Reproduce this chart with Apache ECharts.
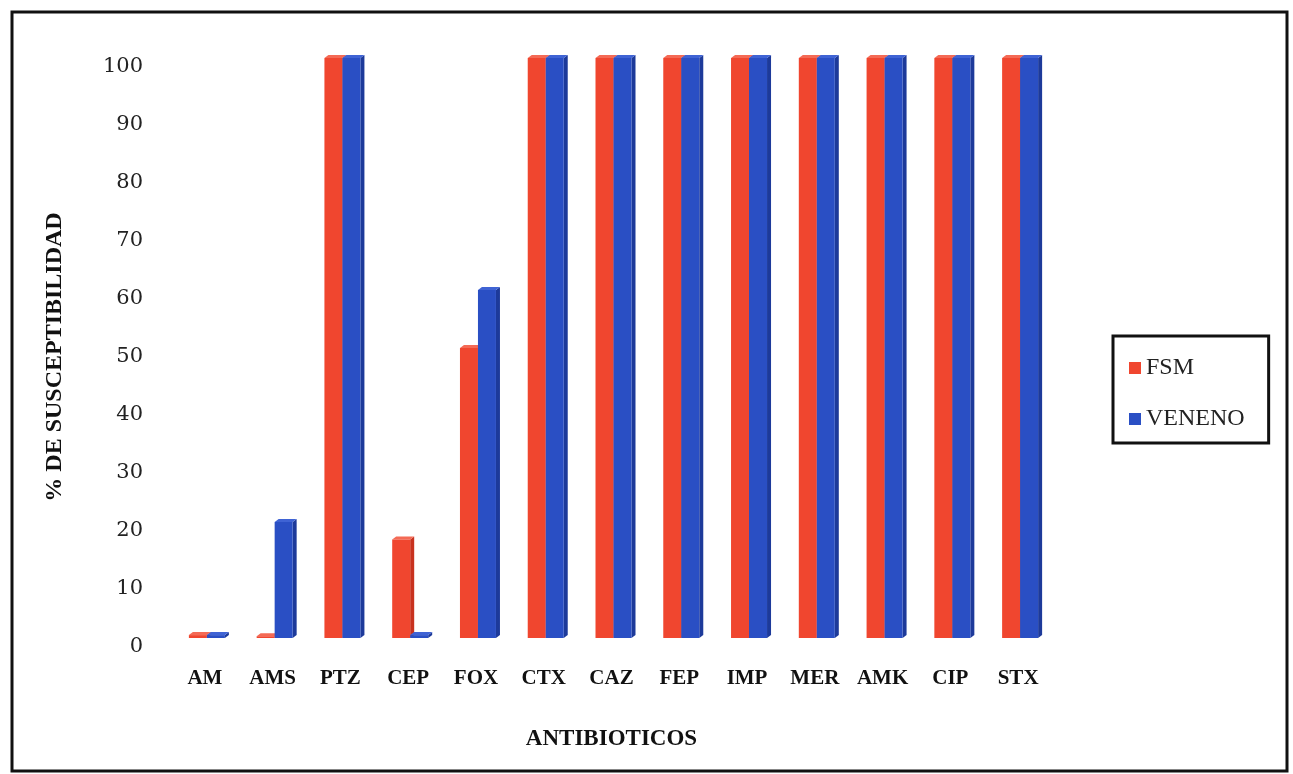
<!DOCTYPE html>
<html>
<head>
<meta charset="utf-8">
<script src="https://cdn.jsdelivr.net/npm/echarts@6/dist/echarts.min.js"></script>
<style>
html, body { margin: 0; padding: 0; background: #fff; }
#chart { width: 1293px; height: 774px; }
</style>
</head>
<body>
<div id="chart"></div>
<script>
var antibioticos = ['AM', 'AMS', 'PTZ', 'CEP', 'FOX', 'CTX', 'CAZ', 'FEP', 'IMP', 'MER', 'AMK', 'CIP', 'STX'];
var fsm = [0.5, 0.3, 100, 17, 50, 100, 100, 100, 100, 100, 100, 100, 100];
var veneno = [0.5, 20, 100, 0.5, 60, 100, 100, 100, 100, 100, 100, 100, 100];

var myChart = echarts.init(document.getElementById('chart'));
var serif = 'Liberation Serif';

// barra con efecto 3D: cara frontal, tapa y lado derecho (algo elevada, como en Excel)
function bar3d(offset, front, top, side) {
	return function(params, api) {
		var base = api.coord([api.value(0), 0]);
		var tip = api.coord([api.value(0), api.value(1)]);
		var w = 18, dx = 4, dy = 3, lift = 9;
		var x0 = base[0] + offset, x1 = x0 + w;
		var y0 = base[1] - lift, y1 = tip[1] - lift;
		return {
			type: 'group',
			children: [{
				type: 'polygon',
				shape: { points: [[x1, y0], [x1 + dx, y0 - dy], [x1 + dx, y1 - dy], [x1, y1]] },
				style: { fill: side }
			}, {
				type: 'polygon',
				shape: { points: [[x0, y1], [x0 + dx, y1 - dy], [x1 + dx, y1 - dy], [x1, y1]] },
				style: { fill: top }
			}, {
				type: 'rect',
				shape: { x: x0, y: y1, width: w, height: y0 - y1 },
				style: { fill: front }
			}]
		};
	};
}

var option = {
	backgroundColor: '#fff',
	animation: false,
	grid: { left: 171, right: 241, top: 67, bottom: 127 },
	graphic: [{
		type: 'rect',
		shape: { x: 12, y: 12, width: 1275, height: 759 },
		style: { fill: 'none', stroke: '#111', lineWidth: 3 },
		z: 100
	}],
	legend: {
		orient: 'vertical',
		left: 1113,
		top: 336,
		padding: [20, 24, 12, 16],
		itemGap: 27,
		itemWidth: 12,
		itemHeight: 12,
		borderColor: '#111',
		borderWidth: 3,
		icon: 'rect',
		data: ['FSM', 'VENENO'],
		textStyle: { fontFamily: serif, fontSize: 24, color: '#222' }
	},
	xAxis: {
		type: 'category',
		data: antibioticos,
		name: 'ANTIBIOTICOS',
		nameLocation: 'middle',
		nameGap: 81,
		nameTextStyle: { fontFamily: serif, fontSize: 23, fontWeight: 'bold', color: '#111' },
		axisLine: { show: false },
		axisTick: { show: false },
		axisLabel: { fontFamily: serif, fontSize: 21, fontWeight: 'bold', color: '#111', margin: 21 }
	},
	yAxis: {
		type: 'value',
		min: 0,
		max: 100,
		interval: 10,
		name: '% DE SUSCEPTIBILIDAD',
		nameLocation: 'middle',
		nameGap: 104,
		nameRotate: 90,
		nameTextStyle: { fontFamily: serif, fontSize: 24, fontWeight: 'bold', color: '#111' },
		axisLine: { show: false },
		axisTick: { show: false },
		splitLine: { show: false },
		axisLabel: { fontFamily: 'DejaVu Serif', fontSize: 21, color: '#222', margin: 28 }
	},
	series: [{
		name: 'FSM',
		type: 'custom',
		itemStyle: { color: '#f0462f' },
		renderItem: bar3d(-16, '#f0462f', '#f46a55', '#c8321f'),
		encode: { x: 0, y: 1 },
		data: fsm.map(function(v, i) { return [i, v]; })
	}, {
		name: 'VENENO',
		type: 'custom',
		itemStyle: { color: '#2a4fc4' },
		renderItem: bar3d(2, '#2a4fc4', '#3f63d4', '#1d3a9a'),
		encode: { x: 0, y: 1 },
		data: veneno.map(function(v, i) { return [i, v]; })
	}]
};

myChart.setOption(option);
</script>
</body>
</html>
